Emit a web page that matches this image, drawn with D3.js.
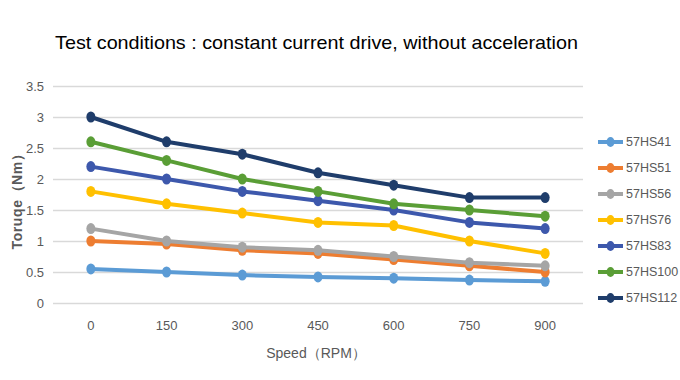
<!DOCTYPE html>
<html>
<head>
<meta charset="utf-8">
<script src="https://cdn.jsdelivr.net/npm/d3@7"></script>
<style>
body { margin: 0; background: #fff; }
svg { display: block; }
.tick text { font-family: "Liberation Sans", Arial, sans-serif; fill: #595959; }
</style>
</head>
<body>
<svg id="chart" width="680" height="380"></svg>
<script>
// speed categories (RPM)
var speeds = ["0", "150", "300", "450", "600", "750", "900"];
var yTicks = [0, 0.5, 1, 1.5, 2, 2.5, 3, 3.5];

var names = ["57HS41", "57HS51", "57HS56", "57HS76", "57HS83", "57HS100", "57HS112"];
var hs41  = [0.55, 0.5, 0.45, 0.42, 0.4, 0.37, 0.35];
var hs51  = [1.0, 0.95, 0.85, 0.8, 0.7, 0.6, 0.5];
var hs56  = [1.2, 1.0, 0.9, 0.85, 0.75, 0.65, 0.6];
var hs76  = [1.8, 1.6, 1.45, 1.3, 1.25, 1.0, 0.8];
var hs83  = [2.2, 2.0, 1.8, 1.65, 1.5, 1.3, 1.2];
var hs100 = [2.6, 2.3, 2.0, 1.8, 1.6, 1.5, 1.4];
var hs112 = [3.0, 2.6, 2.4, 2.1, 1.9, 1.7, 1.7];
var colors = ["#5b9bd5", "#ed7d31", "#a5a5a5", "#ffc000", "#3d58ac", "#5a9e36", "#1f3d6b"];

var series = [hs41, hs51, hs56, hs76, hs83, hs100, hs112].map(function(v, i) {
  return {name: names[i], values: v, color: colors[i]};
});

var svg = d3.select("#chart");
var m = {left: 53, right: 583, top: 86, bottom: 303};

var x = d3.scaleBand().domain(speeds).range([m.left, m.right]);
var y = d3.scaleLinear().domain([0, 3.5]).range([m.bottom, m.top]);

// title
svg.append("text")
  .attr("x", 55).attr("y", 49)
  .attr("font-family", "Liberation Sans, Arial, sans-serif")
  .attr("font-size", 18.5)
  .attr("textLength", 523)
  .attr("lengthAdjust", "spacingAndGlyphs")
  .attr("fill", "#000")
  .text("Test conditions : constant current drive, without acceleration");

// y grid + labels
var yAxis = svg.append("g")
  .attr("transform", "translate(" + m.left + ",0)")
  .call(d3.axisLeft(y).tickValues(yTicks).tickFormat(d3.format("")).tickSize(-(m.right - m.left)).tickPadding(9));
yAxis.select(".domain").remove();
yAxis.selectAll(".tick line").attr("stroke", "#d9d9d9").attr("stroke-width", 1.5);
yAxis.selectAll(".tick text").attr("font-size", 13);

// x labels
var xAxis = svg.append("g")
  .attr("transform", "translate(0," + m.bottom + ")")
  .call(d3.axisBottom(x).tickSize(0).tickPadding(18));
xAxis.select(".domain").remove();
xAxis.selectAll(".tick text").attr("font-size", 13);

// axis titles
svg.append("text")
  .attr("x", 316).attr("y", 358)
  .attr("text-anchor", "middle")
  .attr("font-family", "Liberation Sans, Arial, sans-serif")
  .attr("font-size", 14).attr("fill", "#595959")
  .text("Speed（RPM）");

svg.append("text")
  .attr("transform", "translate(22,198) rotate(-90)")
  .attr("text-anchor", "middle")
  .attr("font-family", "Liberation Sans, Arial, sans-serif")
  .attr("font-weight", "bold")
  .attr("font-size", 14).attr("fill", "#595959")
  .attr("letter-spacing", 0.6)
  .text("Toruqe（Nm）");

var cx = function(d, i) { return x(speeds[i]) + x.bandwidth() / 2; };
var line = d3.line().x(cx).y(function(d) { return y(d); });

var g = svg.selectAll(".series").data(series).enter().append("g").attr("class", "series");
g.append("path")
  .attr("d", function(d) { return line(d.values); })
  .attr("fill", "none")
  .attr("stroke", function(d) { return d.color; })
  .attr("stroke-width", 4)
  .attr("stroke-linejoin", "round");
g.selectAll("circle").data(function(d) { return d.values.map(function(v) { return {v: v, c: d.color}; }); })
  .enter().append("ellipse")
  .attr("cx", function(d, i) { return cx(d, i); })
  .attr("cy", function(d) { return y(d.v); })
  .attr("rx", 4.5).attr("ry", 5.5)
  .attr("fill", function(d) { return d.c; });

// legend
var leg = svg.selectAll(".leg").data(series).enter().append("g")
  .attr("transform", function(d, i) { return "translate(598," + (142 + i * 26) + ")"; });
leg.append("line").attr("x1", 0).attr("x2", 25)
  .attr("stroke", function(d) { return d.color; }).attr("stroke-width", 4);
leg.append("ellipse").attr("cx", 12.5).attr("rx", 4).attr("ry", 5).attr("fill", function(d) { return d.color; });
leg.append("text").attr("x", 28).attr("dy", "0.35em")
  .attr("font-family", "Liberation Sans, Arial, sans-serif")
  .attr("font-size", 12.5).attr("fill", "#595959")
  .text(function(d) { return d.name; });
</script>
</body>
</html>
